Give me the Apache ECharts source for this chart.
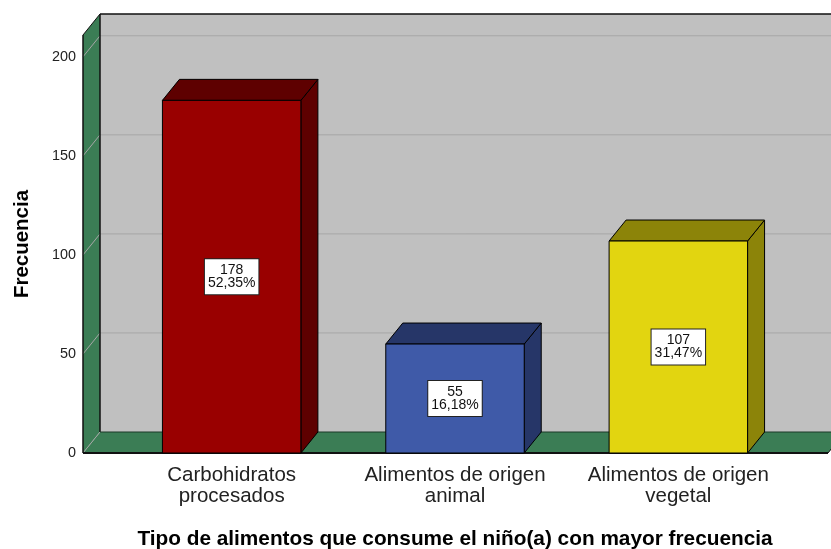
<!DOCTYPE html>
<html>
<head>
<meta charset="utf-8">
<script src="https://cdn.jsdelivr.net/npm/echarts@6/dist/echarts.min.js"></script>
<style>
  html, body { margin: 0; padding: 0; background: #fff; }
  #chart { width: 831px; height: 549px; }
</style>
</head>
<body>
<div id="chart"></div>
<script>
// Food groups and how many children eat each one most often
const CATEGORIES = ['Carbohidratos\nprocesados', 'Alimentos de origen\nanimal', 'Alimentos de origen\nvegetal'];
const COUNTS = [178, 55, 107];
const Y_TICKS = [0, 50, 100, 150, 200];
const Y_MAX = 211;

// Face colours per bar: front, top, side
const FRONT = ['#990000', '#3f5aa8', '#e2d510'];
const SHADE = ['#5e0000', '#263668', '#8c8409'];

// Pseudo-3D depth (pixels) for walls and bars
const DX = 17, DY = -21;
const WALL = '#c0c0c0', FLOOR = '#3b7d55', GRID = '#a6a6a6', EDGE = '#111';
const FONT = '"Liberation Sans", Arial, sans-serif';

const total = COUNTS.reduce((a, b) => a + b, 0);
const pctText = v => (v / total * 100).toFixed(2).replace('.', ',') + '%';

const chart = echarts.init(document.getElementById('chart'), null, { renderer: 'canvas' });

function line(x1, y1, x2, y2, color, w) {
  return { type: 'line', shape: { x1, y1, x2, y2 }, style: { stroke: color, lineWidth: w || 1 }, silent: true };
}

function renderFrame(params, api) {
  const p0 = api.coord([0, 0]);
  const p1 = api.coord([1, Y_MAX]);
  const L = p0[0], B = p0[1], R = p1[0], T = p1[1];
  const kids = [];
  // back wall
  kids.push({ type: 'polygon', shape: { points: [[L + DX, T + DY], [R + DX + 40, T + DY], [R + DX + 40, B + DY], [L + DX, B + DY]] }, style: { fill: WALL } });
  // left wall
  kids.push({ type: 'polygon', shape: { points: [[L, B], [L, T], [L + DX, T + DY], [L + DX, B + DY]] }, style: { fill: FLOOR } });
  // floor
  kids.push({ type: 'polygon', shape: { points: [[L, B], [L + DX, B + DY], [R + DX, B + DY], [R, B]] }, style: { fill: FLOOR } });
  // grid lines on the left wall and back wall
  Y_TICKS.filter(t => t > 0).forEach(t => {
    const y = api.coord([0, t])[1];
    kids.push(line(L, y, L + DX, y + DY, GRID));
    kids.push(line(L + DX, y + DY, R + DX + 40, y + DY, GRID));
  });
  kids.push(line(L, B, L + DX, B + DY, GRID));
  // edges
  kids.push(line(L + DX, T + DY, R + DX + 40, T + DY, EDGE, 1.5));
  kids.push(line(L, T, L + DX, T + DY, EDGE));
  kids.push(line(L, T, L, B, EDGE, 1.5));
  kids.push(line(L + DX, T + DY, L + DX, B + DY, EDGE, 1.5));
  kids.push(line(L + DX, B + DY, R + DX, B + DY, '#1d3a28'));
  kids.push(line(L, B, R, B, EDGE, 2));
  kids.push(line(R, B, R + DX, B + DY, EDGE));
  return { type: 'group', children: kids };
}

function renderBar(params, api) {
  const i = api.value(0);
  const v = api.value(1);
  const top = api.coord([i, v]);
  const base = api.coord([i, 0]);
  const w = api.size([1, 0])[0] * 0.62;
  const x0 = top[0] - w / 2, x1 = top[0] + w / 2;
  const yt = top[1], yb = base[1];
  const c = params.dataIndex;
  const stroke = { stroke: '#000', lineWidth: 1 };
  return {
    type: 'group',
    children: [
      { type: 'polygon', shape: { points: [[x1, yb], [x1, yt], [x1 + DX, yt + DY], [x1 + DX, yb + DY]] },
        style: Object.assign({ fill: SHADE[c], lineJoin: 'round' }, stroke) },
      { type: 'polygon', shape: { points: [[x0, yt], [x0 + DX, yt + DY], [x1 + DX, yt + DY], [x1, yt]] },
        style: Object.assign({ fill: SHADE[c], lineJoin: 'round' }, stroke) },
      { type: 'rect', shape: { x: x0, y: yt, width: w, height: yb - yt },
        style: Object.assign({ fill: FRONT[c] }, stroke) },
      { type: 'text', x: top[0], y: (yt + yb) / 2,
        style: {
          text: COUNTS[c] + '\n' + pctText(COUNTS[c]),
          font: '14px ' + FONT, fill: '#111',
          align: 'center', verticalAlign: 'middle', lineHeight: 13,
          backgroundColor: '#fff', borderColor: '#222', borderWidth: 1,
          padding: [5, 3, 4, 3]
        } }
    ]
  };
}

chart.setOption({
  animation: false,
  backgroundColor: '#fff',
  grid: [
    { left: 83, right: 3, top: 35, bottom: 96, outerBoundsMode: 'none' },
    { left: 120, right: 41, top: 35, bottom: 96, outerBoundsMode: 'none' }
  ],
  xAxis: [
    { type: 'value', gridIndex: 0, min: 0, max: 1, show: false },
    {
      type: 'category', gridIndex: 1, data: CATEGORIES,
      axisLine: { show: false }, axisTick: { show: false },
      axisLabel: { interval: 0, fontFamily: FONT, fontSize: 20.5, lineHeight: 21, color: '#222', margin: 12 },
      name: 'Tipo de alimentos que consume el niño(a) con mayor frecuencia',
      nameLocation: 'middle', nameGap: 76,
      nameTextStyle: { fontFamily: FONT, fontSize: 20.8, fontWeight: 'bold', color: '#000' }
    }
  ],
  yAxis: [
    {
      type: 'value', gridIndex: 0, min: 0, max: Y_MAX, interval: 50,
      axisLine: { show: false }, axisTick: { show: false }, splitLine: { show: false },
      axisLabel: {
        fontFamily: FONT, fontSize: 14.4, color: '#222', margin: 7, showMaxLabel: false,
        formatter: v => (Y_TICKS.indexOf(v) >= 0 ? String(v) : '')
      },
      name: 'Frecuencia', nameLocation: 'middle', nameGap: 50, nameRotate: 90,
      nameTextStyle: { fontFamily: FONT, fontSize: 20.5, fontWeight: 'bold', color: '#000' }
    },
    { type: 'value', gridIndex: 1, min: 0, max: Y_MAX, show: false }
  ],
  series: [
    {
      type: 'custom', xAxisIndex: 0, yAxisIndex: 0, silent: true, z: 1,
      renderItem: renderFrame, data: [[0, 0]]
    },
    {
      type: 'custom', xAxisIndex: 1, yAxisIndex: 1, z: 2,
      renderItem: renderBar,
      encode: { x: 0, y: 1 },
      data: COUNTS.map((v, i) => [i, v])
    }
  ]
});
</script>
</body>
</html>
